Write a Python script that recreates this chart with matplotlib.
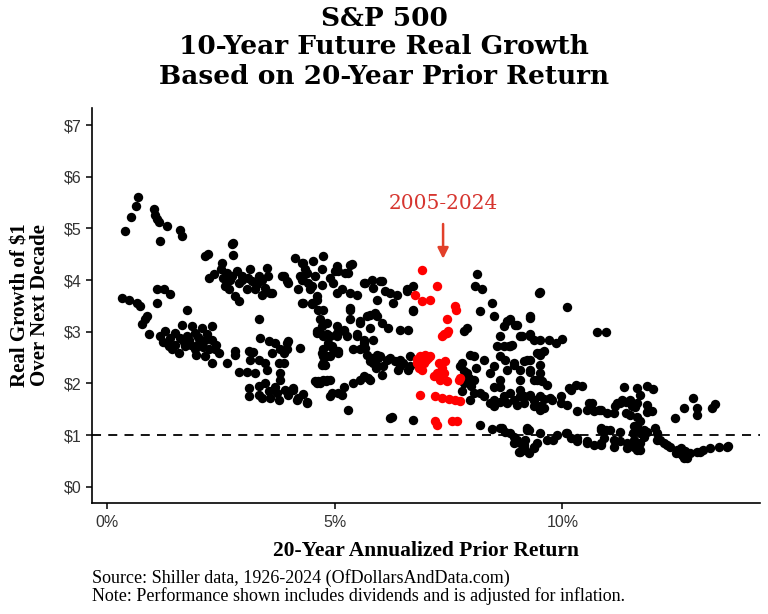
import matplotlib
matplotlib.use('Agg')
from matplotlib import pyplot as plt
import numpy as np

plt.rcParams['font.family'] = ['Liberation Sans', 'DejaVu Sans']

# 20-year prior annualized return (%) and real growth of $1 over next decade
black_low = [
    (0.67, 5.61), (0.64, 5.43), (0.53, 5.22), (0.40, 4.95), (1.02, 5.37), (1.05, 5.27),
    (1.09, 5.19), (1.13, 5.12), (1.31, 5.04), (1.60, 4.97), (1.64, 4.85), (1.15, 4.75),
    (0.32, 3.66), (0.47, 3.61), (0.65, 3.56), (0.73, 3.49), (0.87, 3.30), (0.84, 3.24),
    (0.76, 3.16), (1.09, 3.82), (1.24, 3.83), (1.38, 3.74), (1.09, 3.56), (1.75, 3.42),
    (0.91, 2.95), (1.16, 2.91), (1.27, 3.01), (1.31, 2.78), (1.42, 2.66), (1.57, 2.59),
    (1.49, 2.98), (1.64, 3.14), (1.75, 2.91), (1.86, 3.11), (1.93, 2.98), (2.01, 2.78),
    (2.08, 3.07), (2.15, 2.85), (2.23, 2.66), (2.30, 3.11), (2.30, 2.85), (2.37, 2.66),
    (2.45, 2.59), (2.30, 2.40), (2.15, 2.53), (1.93, 2.66), (1.71, 2.72), (1.80, 2.85),
    (1.60, 2.88), (1.38, 2.89), (1.22, 2.80), (1.50, 2.75), (1.68, 2.80), (1.85, 2.75),
    (2.00, 2.90), (2.10, 2.70), (1.95, 2.55), (2.40, 2.75), (2.20, 2.95), (1.35, 2.72),
    (2.21, 4.50), (2.15, 4.46), (2.74, 4.69), (2.76, 4.72), (2.76, 4.48), (2.52, 4.34),
    (2.51, 4.21), (2.23, 4.04), (2.34, 4.11), (2.63, 4.14), (2.74, 4.08), (2.85, 4.17),
    (2.96, 4.08), (2.59, 3.88), (2.67, 3.82), (2.81, 3.69), (2.89, 3.59), (2.96, 4.01),
    (2.70, 4.00), (2.55, 4.05), (2.90, 3.95), (2.63, 2.40), (2.81, 2.62), (2.81, 2.55),
    (2.89, 2.23),
]

black_mid = [
    (3.14, 4.21), (3.33, 4.08), (3.51, 4.24), (3.53, 4.08), (3.40, 4.01), (3.18, 3.98),
    (3.07, 3.82), (3.25, 3.82), (3.40, 3.72), (3.47, 3.85), (3.62, 3.75), (3.84, 4.08),
    (3.98, 3.95), (3.10, 4.05), (3.30, 3.92), (4.13, 4.43), (4.28, 4.34), (4.53, 4.37),
    (4.75, 4.46), (4.35, 4.21), (4.28, 4.01), (4.42, 3.95), (4.57, 4.08), (4.72, 4.21),
    (4.20, 3.82), (4.50, 3.88), (4.61, 3.69), (4.28, 3.55), (4.50, 3.53), (4.64, 3.43),
    (4.68, 3.24), (4.72, 3.11), (3.33, 3.24), (3.07, 2.23), (3.25, 2.20), (3.11, 2.62),
    (3.20, 2.60), (3.14, 2.46), (3.33, 2.46), (3.36, 2.88), (3.55, 2.82), (3.69, 2.78),
    (3.98, 2.82), (3.80, 2.66), (3.62, 2.59), (3.47, 2.40), (3.51, 2.27), (3.77, 2.40),
    (3.88, 2.59), (3.95, 2.66), (4.24, 2.69), (3.80, 2.20), (3.80, 2.07), (3.11, 1.91),
    (3.11, 1.76), (3.33, 1.96), (3.33, 1.78), (3.47, 2.01), (3.55, 1.85), (3.58, 1.72),
    (3.69, 1.94), (3.73, 1.81), (3.77, 1.69), (3.91, 1.88), (3.98, 1.78), (4.09, 1.91),
    (4.17, 1.69), (4.39, 1.63), (3.40, 1.72), (4.20, 1.72), (4.30, 1.80), (4.57, 2.04),
    (4.60, 2.00), (4.61, 2.98), (4.72, 2.59), (4.72, 2.36), (5.34, 4.30), (5.30, 4.14),
    (5.08, 4.17), (4.90, 4.04), (4.39, 4.14), (4.31, 4.01), (4.46, 3.82), (4.72, 3.91),
    (4.97, 3.95), (5.16, 3.82), (5.34, 3.75), (5.49, 3.72), (5.67, 3.95), (5.85, 3.85),
    (5.93, 3.62), (6.11, 3.79), (4.61, 3.62), (4.50, 3.56), (4.83, 3.17), (5.05, 3.11),
    (5.20, 3.04), (5.34, 3.24), (5.34, 3.43), (5.56, 3.17), (5.71, 3.30), (5.89, 3.36),
    (5.78, 3.07), (6.04, 3.17), (5.49, 2.91), (5.64, 2.85), (5.85, 2.85), (5.93, 2.56),
    (5.71, 2.56), (4.75, 2.91), (4.86, 2.78), (4.97, 2.66), (4.90, 2.53), (4.79, 2.36),
    (5.08, 2.59), (3.95, 3.98), (3.88, 4.08), (3.58, 3.75), (6.07, 2.33), (5.85, 2.40),
    (5.38, 4.32), (5.01, 4.17), (5.23, 4.14), (5.64, 3.95), (6.04, 3.98), (6.22, 3.75),
    (6.37, 3.72), (6.29, 3.56), (6.59, 3.82), (6.73, 3.88), (6.73, 3.43), (5.34, 3.46),
    (5.56, 3.20), (5.78, 3.33), (5.93, 3.30), (6.18, 3.07), (6.44, 3.04), (6.62, 3.04),
    (5.20, 3.01), (5.05, 2.91), (4.90, 2.72), (4.75, 2.53), (5.41, 2.66), (5.67, 2.69),
    (5.82, 2.49), (6.00, 2.53), (6.22, 2.49), (6.44, 2.46), (6.66, 2.53), (5.93, 2.33),
    (5.64, 2.14), (5.78, 2.07), (6.04, 2.17), (6.44, 2.33), (6.62, 2.27), (4.75, 2.07),
    (4.80, 2.05), (5.20, 1.94), (5.41, 2.01), (3.95, 2.78), (3.88, 2.40), (4.61, 3.01),
    (4.83, 2.95), (5.05, 2.98), (5.27, 2.91), (5.49, 2.95), (5.64, 2.78), (5.56, 2.66),
    (4.75, 2.66), (4.94, 2.72), (5.08, 2.62), (4.83, 2.53), (5.78, 2.43), (5.96, 2.49),
    (6.15, 2.46), (6.33, 2.43), (6.51, 2.40), (6.66, 2.33), (6.40, 2.27), (5.90, 2.30),
    (4.64, 2.04), (4.90, 2.07), (4.94, 1.81), (5.16, 1.78), (5.56, 2.07), (5.74, 2.11),
    (5.30, 1.49), (6.22, 1.33), (6.25, 1.35), (6.73, 1.30), (4.09, 1.88), (4.39, 1.65),
    (5.05, 4.27), (5.05, 3.75), (4.75, 3.43), (4.68, 2.98), (4.90, 2.91), (4.75, 2.40),
    (4.68, 2.01), (4.83, 2.07), (4.90, 1.75), (5.08, 1.81), (4.31, 3.56), (4.53, 3.56),
    (4.24, 4.08), (4.31, 4.34), (6.59, 3.79), (6.73, 3.40), (5.82, 4.01), (6.00, 3.98),
]

black_high = [
    (7.76, 2.33), (7.98, 2.56), (7.90, 2.20), (8.05, 2.07), (8.10, 2.30), (8.27, 2.46),
    (8.42, 2.20), (8.49, 1.94), (8.64, 2.07), (8.56, 2.72), (8.86, 2.72), (9.08, 2.91),
    (9.30, 2.91), (9.50, 2.85), (9.22, 2.46), (8.93, 2.40), (8.78, 2.27), (9.08, 2.07),
    (9.37, 2.07), (8.86, 1.81), (9.08, 1.75), (9.30, 1.75), (8.20, 1.81), (7.98, 1.69),
    (8.42, 1.62), (8.64, 1.65), (8.20, 1.20), (8.45, 1.12), (8.67, 1.14), (8.86, 1.04),
    (9.00, 0.91), (9.15, 0.81), (9.22, 1.10), (9.37, 0.78), (8.93, 0.85), (9.08, 0.68),
    (9.26, 0.65), (9.45, 0.85), (9.50, 3.77), (10.10, 3.48), (10.76, 3.00), (10.97, 3.00),
    (8.78, 3.20), (8.97, 3.14), (9.30, 3.27), (8.71, 2.72), (8.89, 2.75), (9.11, 2.91),
    (9.37, 2.85), (9.70, 2.85), (9.85, 2.78), (9.99, 2.86), (8.75, 2.46), (8.93, 2.36),
    (9.15, 2.43), (9.30, 2.46), (9.52, 2.36), (9.59, 2.62), (9.50, 2.55), (9.08, 2.27),
    (9.30, 2.23), (9.52, 2.07), (9.55, 2.05), (8.64, 1.94), (9.08, 1.88), (9.30, 1.78),
    (9.52, 1.75), (9.74, 1.72), (9.96, 1.75), (10.10, 1.59), (10.18, 1.88), (10.29, 1.98),
    (10.43, 1.96), (8.78, 1.62), (9.00, 1.59), (9.37, 1.56), (9.59, 1.53), (10.58, 1.62),
    (10.69, 1.46), (10.84, 1.49), (10.98, 1.43), (11.16, 1.56), (11.35, 1.94), (11.64, 1.91),
    (11.86, 1.96), (12.00, 1.89), (11.71, 1.78), (11.31, 1.69), (11.40, 1.65), (11.53, 1.56),
    (11.60, 1.55), (11.86, 1.59), (11.97, 1.46), (11.49, 1.40), (12.87, 1.72), (12.67, 1.53),
    (12.96, 1.53), (12.96, 1.40), (12.48, 1.33), (13.29, 1.53), (13.36, 1.61), (8.64, 1.14),
    (8.75, 1.07), (8.93, 0.97), (9.08, 0.85), (9.04, 0.68), (9.19, 0.72), (9.37, 0.75),
    (9.22, 1.14), (9.52, 1.04), (9.66, 0.91), (9.80, 0.90), (10.07, 1.04), (10.18, 0.94),
    (10.32, 0.88), (10.54, 0.85), (10.69, 0.81), (10.84, 0.85), (10.84, 1.14), (10.97, 1.10),
    (11.13, 0.91), (11.27, 0.88), (11.42, 0.85), (11.57, 0.78), (11.64, 0.72), (11.71, 0.85),
    (11.79, 0.97), (11.86, 1.06), (11.64, 1.17), (11.55, 1.05), (12.08, 0.91), (12.23, 0.85),
    (12.37, 0.78), (12.52, 0.72), (12.63, 0.62), (12.67, 0.56), (12.81, 0.65), (12.96, 0.68),
    (13.10, 0.72), (13.25, 0.75), (13.44, 0.78), (13.64, 0.79), (12.70, 0.70), (12.60, 0.75),
    (12.50, 0.66), (11.49, 1.69), (11.64, 1.62), (11.27, 1.62), (11.13, 1.43), (11.40, 1.43),
    (11.64, 1.36), (11.71, 1.27), (11.57, 1.17), (11.79, 1.10), (12.04, 1.14), (12.08, 1.04),
    (11.85, 1.45), (11.71, 1.04), (11.57, 0.91), (10.84, 1.10), (11.05, 1.10), (11.27, 1.07),
    (10.91, 0.94), (9.44, 2.59), (9.30, 2.27), (9.66, 1.98), (10.14, 1.91), (10.65, 1.62),
    (10.80, 1.49), (11.20, 1.62), (10.54, 1.49), (10.32, 1.46), (9.96, 1.62), (9.78, 1.69),
    (9.15, 1.75), (9.37, 1.69), (9.52, 1.49), (9.26, 1.10), (9.19, 0.91), (9.88, 1.01),
    (10.10, 1.04), (10.32, 0.94), (10.54, 0.88), (10.84, 0.81), (11.13, 0.78), (11.42, 0.75),
    (11.71, 0.72), (12.15, 0.91), (12.30, 0.81), (12.59, 0.65), (12.74, 0.56), (13.03, 0.68),
    (13.62, 0.78), (8.12, 4.11), (8.09, 3.88), (8.23, 3.82), (8.45, 3.56), (8.20, 3.40),
    (8.49, 3.30), (8.71, 3.11), (8.86, 3.24), (9.00, 3.14), (9.30, 3.30), (9.48, 3.75),
    (8.64, 2.91), (8.82, 2.72), (9.30, 2.95), (7.90, 3.07), (7.83, 3.01), (8.05, 2.53),
    (8.49, 2.33), (8.64, 2.53), (9.52, 2.59), (9.44, 2.07), (9.50, 2.20), (7.83, 2.01),
    (8.05, 1.81), (8.27, 1.75), (8.49, 1.69), (8.71, 1.75), (8.93, 1.69), (9.15, 1.62),
    (9.37, 1.69), (9.52, 1.56), (9.60, 1.70), (8.49, 1.56), (7.80, 2.40), (7.85, 2.25),
    (7.95, 2.10), (7.80, 1.85), (8.00, 1.95),
]

# 2005-2024 points
red_pts = [
    (6.91, 4.19), (7.24, 3.88), (6.77, 3.72), (6.91, 3.59), (7.10, 3.62), (7.65, 3.49),
    (7.67, 3.43), (7.46, 3.24), (7.48, 3.01), (7.36, 2.91), (7.39, 2.95), (7.46, 2.98),
    (6.81, 2.40), (6.88, 2.53), (6.99, 2.56), (7.10, 2.53), (6.84, 2.30), (6.95, 2.40),
    (7.00, 2.45), (6.91, 2.27), (6.80, 2.48), (7.05, 2.50), (7.28, 2.40), (7.43, 2.43),
    (7.24, 2.20), (7.39, 2.20), (7.17, 2.14), (7.32, 2.07), (7.46, 2.04), (7.72, 2.07),
    (7.75, 2.10), (7.35, 2.30), (6.88, 1.78), (7.21, 1.75), (7.36, 1.72), (7.50, 1.70),
    (7.65, 1.69), (7.76, 1.67), (7.21, 1.27), (7.24, 1.20), (7.57, 1.28), (7.68, 1.28),
]

x_ticks = [0, 5, 10]
x_labels = ['0%', '5%', '10%']
y_ticks = [0, 1, 2, 3, 4, 5, 6, 7]
y_labels = ['\\$%d' % v for v in y_ticks]

black = np.array(black_low + black_mid + black_high)
red = np.array(red_pts)

fig = plt.figure(figsize=(7.68, 6.14), dpi=100)
ax = fig.add_axes([0.12, 0.181, 0.87, 0.643])

ax.scatter(black[:, 0], black[:, 1], s=46, color='black', linewidths=0, zorder=2)
ax.scatter(red[:, 0], red[:, 1], s=46, color='#ff0000', linewidths=0, zorder=3)
ax.axhline(1, color='black', linestyle=(0, (5, 4)), linewidth=1.3, zorder=1)

ax.annotate('', xy=(7.38, 4.36), xytext=(7.38, 5.14),
            arrowprops=dict(arrowstyle='-|>', color='#e2402a', lw=1.8, mutation_scale=16))
ax.text(7.38, 5.49, '2005-2024', color='#d6352f', ha='center', va='center',
        fontsize=14.5, family='DejaVu Serif')

ax.set_xlim(-0.33, 14.35)
ax.set_ylim(-0.31, 7.33)
ax.set_xticks(x_ticks)
ax.set_xticklabels(x_labels)
ax.set_yticks(y_ticks)
ax.set_yticklabels(y_labels)
for s in ['top', 'right']:
    ax.spines[s].set_visible(False)
for s in ['left', 'bottom']:
    ax.spines[s].set_linewidth(1.2)
ax.tick_params(length=4, width=1.1, labelsize=11.5, labelcolor='#333333')
ax.tick_params(axis='x', pad=5)

ax.set_xlabel('20-Year Annualized Prior Return', fontsize=15.5, fontweight='bold',
              family='Liberation Serif', labelpad=8)
ax.set_ylabel('Real Growth of \\$1\nOver Next Decade', fontsize=15, fontweight='bold',
              family='Liberation Serif', labelpad=10, linespacing=0.95)

title_lines = ['S&P 500', '10-Year Future Real Growth', 'Based on 20-Year Prior Return']
for i, line in enumerate(title_lines):
    fig.text(0.5, 1 - (18 + 29 * i) / 614, line, ha='center', va='center',
             fontsize=19, fontweight='bold', family='DejaVu Serif')

fig.text(0.12, 1 - 587 / 614, 'Source: Shiller data, 1926-2024 (OfDollarsAndData.com)\n'
         'Note: Performance shown includes dividends and is adjusted for inflation.',
         ha='left', va='center', fontsize=13, family='Liberation Serif', linespacing=1.0)

plt.savefig('out.png', dpi=100)
